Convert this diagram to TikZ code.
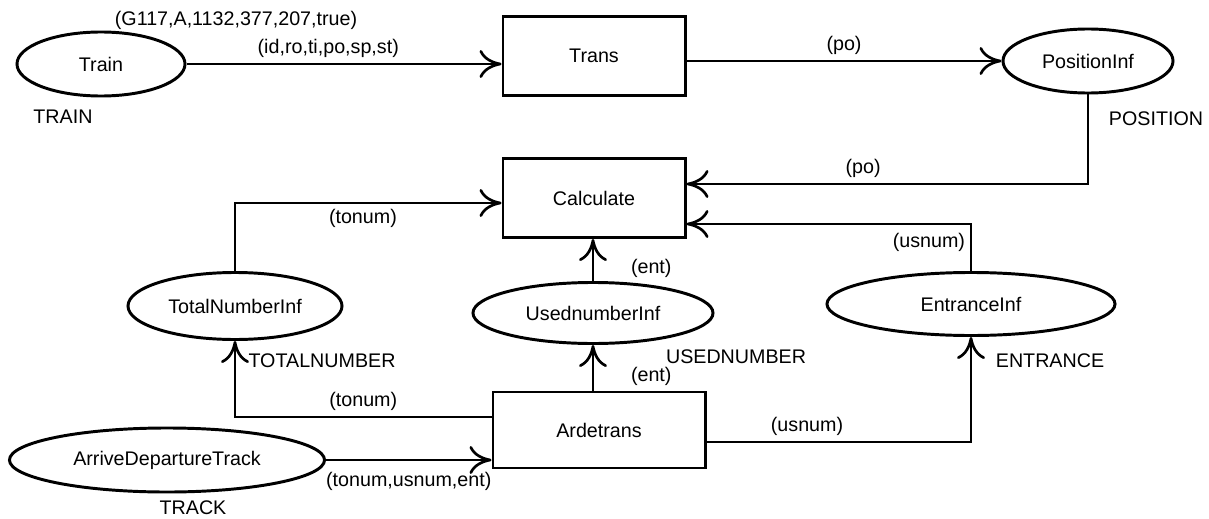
\documentclass[tikz,border=0pt]{standalone}
\usepackage{fontspec}
\setmainfont{Liberation Sans}
\usepackage{tikz}
\usetikzlibrary{positioning,shapes,arrows.meta}

\begin{document}
\begin{tikzpicture}[x=0.025cm,y=-0.025cm,
  font=\fontsize{14}{17}\selectfont,
  placenode/.style={draw,ellipse,line width=2.1pt,inner sep=0pt},
  transnode/.style={draw,rectangle,line width=2.1pt,inner sep=0pt},
  arcline/.style={line width=1.9pt,-{Computer Modern Rightarrow[length=0.55cm,width=0.7cm]}}]
\useasboundingbox (0,0) rectangle (1209,519);
% Stellen
\node[placenode,minimum width=4.2cm,minimum height=1.6cm] (train) at (101,64) {Train};
\node[placenode,minimum width=4.25cm,minimum height=1.6cm] (posinf) at (1088,61) {PositionInf};
\node[placenode,minimum width=5.35cm,minimum height=1.675cm] (totalinf) at (235,306) {TotalNumberInf};
\node[placenode,minimum width=6cm,minimum height=1.525cm] (usedinf) at (593,313) {UsednumberInf};
\node[placenode,minimum width=7.2cm,minimum height=1.575cm] (entinf) at (971,304) {EntranceInf};
\node[placenode,minimum width=7.875cm,minimum height=1.6cm] (track) at (167,460) {ArriveDepartureTrack};
% Transitionen
\node[transnode,minimum width=4.55cm,minimum height=1.975cm] (trans) at (594,56) {Trans};
\node[transnode,minimum width=4.55cm,minimum height=1.975cm] (calc) at (594,198) {Calculate};
\node[transnode,minimum width=5.3cm,minimum height=1.9cm] (ardetrans) at (599,430) {Ardetrans};
% Farbmengen
\node[above=-0.1cm of train, xshift=3.375cm] {(G117,A,1132,377,207,true)};
\node[below=0.2cm of train, xshift=-0.95cm] {TRAIN};
\node[below=0.3cm of posinf, xshift=1.7cm] {POSITION};
\node[below=0.2cm of totalinf, xshift=2.175cm] {TOTALNUMBER};
\node[below=0cm of usedinf, xshift=3.575cm] {USEDNUMBER};
\node[below=0.3cm of entinf, xshift=1.975cm] {ENTRANCE};
\node[below=0.05cm of track, xshift=0.65cm] {TRACK};
% oben
\draw[arcline] (train.east) -- (train.east -| trans.west) node[pos=0.45,above] {(id,ro,ti,po,sp,st)};
\draw[arcline] (posinf.west -| trans.east) -- (posinf.west) node[midway,above] {(po)};
% mitte
\draw[arcline] (posinf.south) |- ([yshift=0.35cm]calc.east) node[pos=0.78,above] {(po)};
\draw[arcline] (entinf.north) |- ([yshift=-0.65cm]calc.east) node[pos=0.3,left] {(usnum)};
\draw[arcline] (totalinf.north) |- ([yshift=-0.125cm]calc.west) node[pos=0.74,below] {(tonum)};
\draw[arcline] (usedinf.north) -- (usedinf.north |- calc.south) node[pos=0.3,right=0.8cm] {(ent)};
% unten
\draw[arcline] (usedinf.south |- ardetrans.north) -- (usedinf.south) node[pos=0.3,right=0.8cm] {(ent)};
\draw[arcline] ([yshift=0.325cm]ardetrans.west) -| (totalinf.south) node[pos=0.25,above] {(tonum)};
\draw[arcline] (track.east) -- (track.east -| ardetrans.west) node[midway,below,yshift=-0.15cm] {(tonum,usnum,ent)};
\draw[arcline] ([yshift=-0.3cm]ardetrans.east) -| (entinf.south) node[pos=0.19,above] {(usnum)};
\end{tikzpicture}
\end{document}
